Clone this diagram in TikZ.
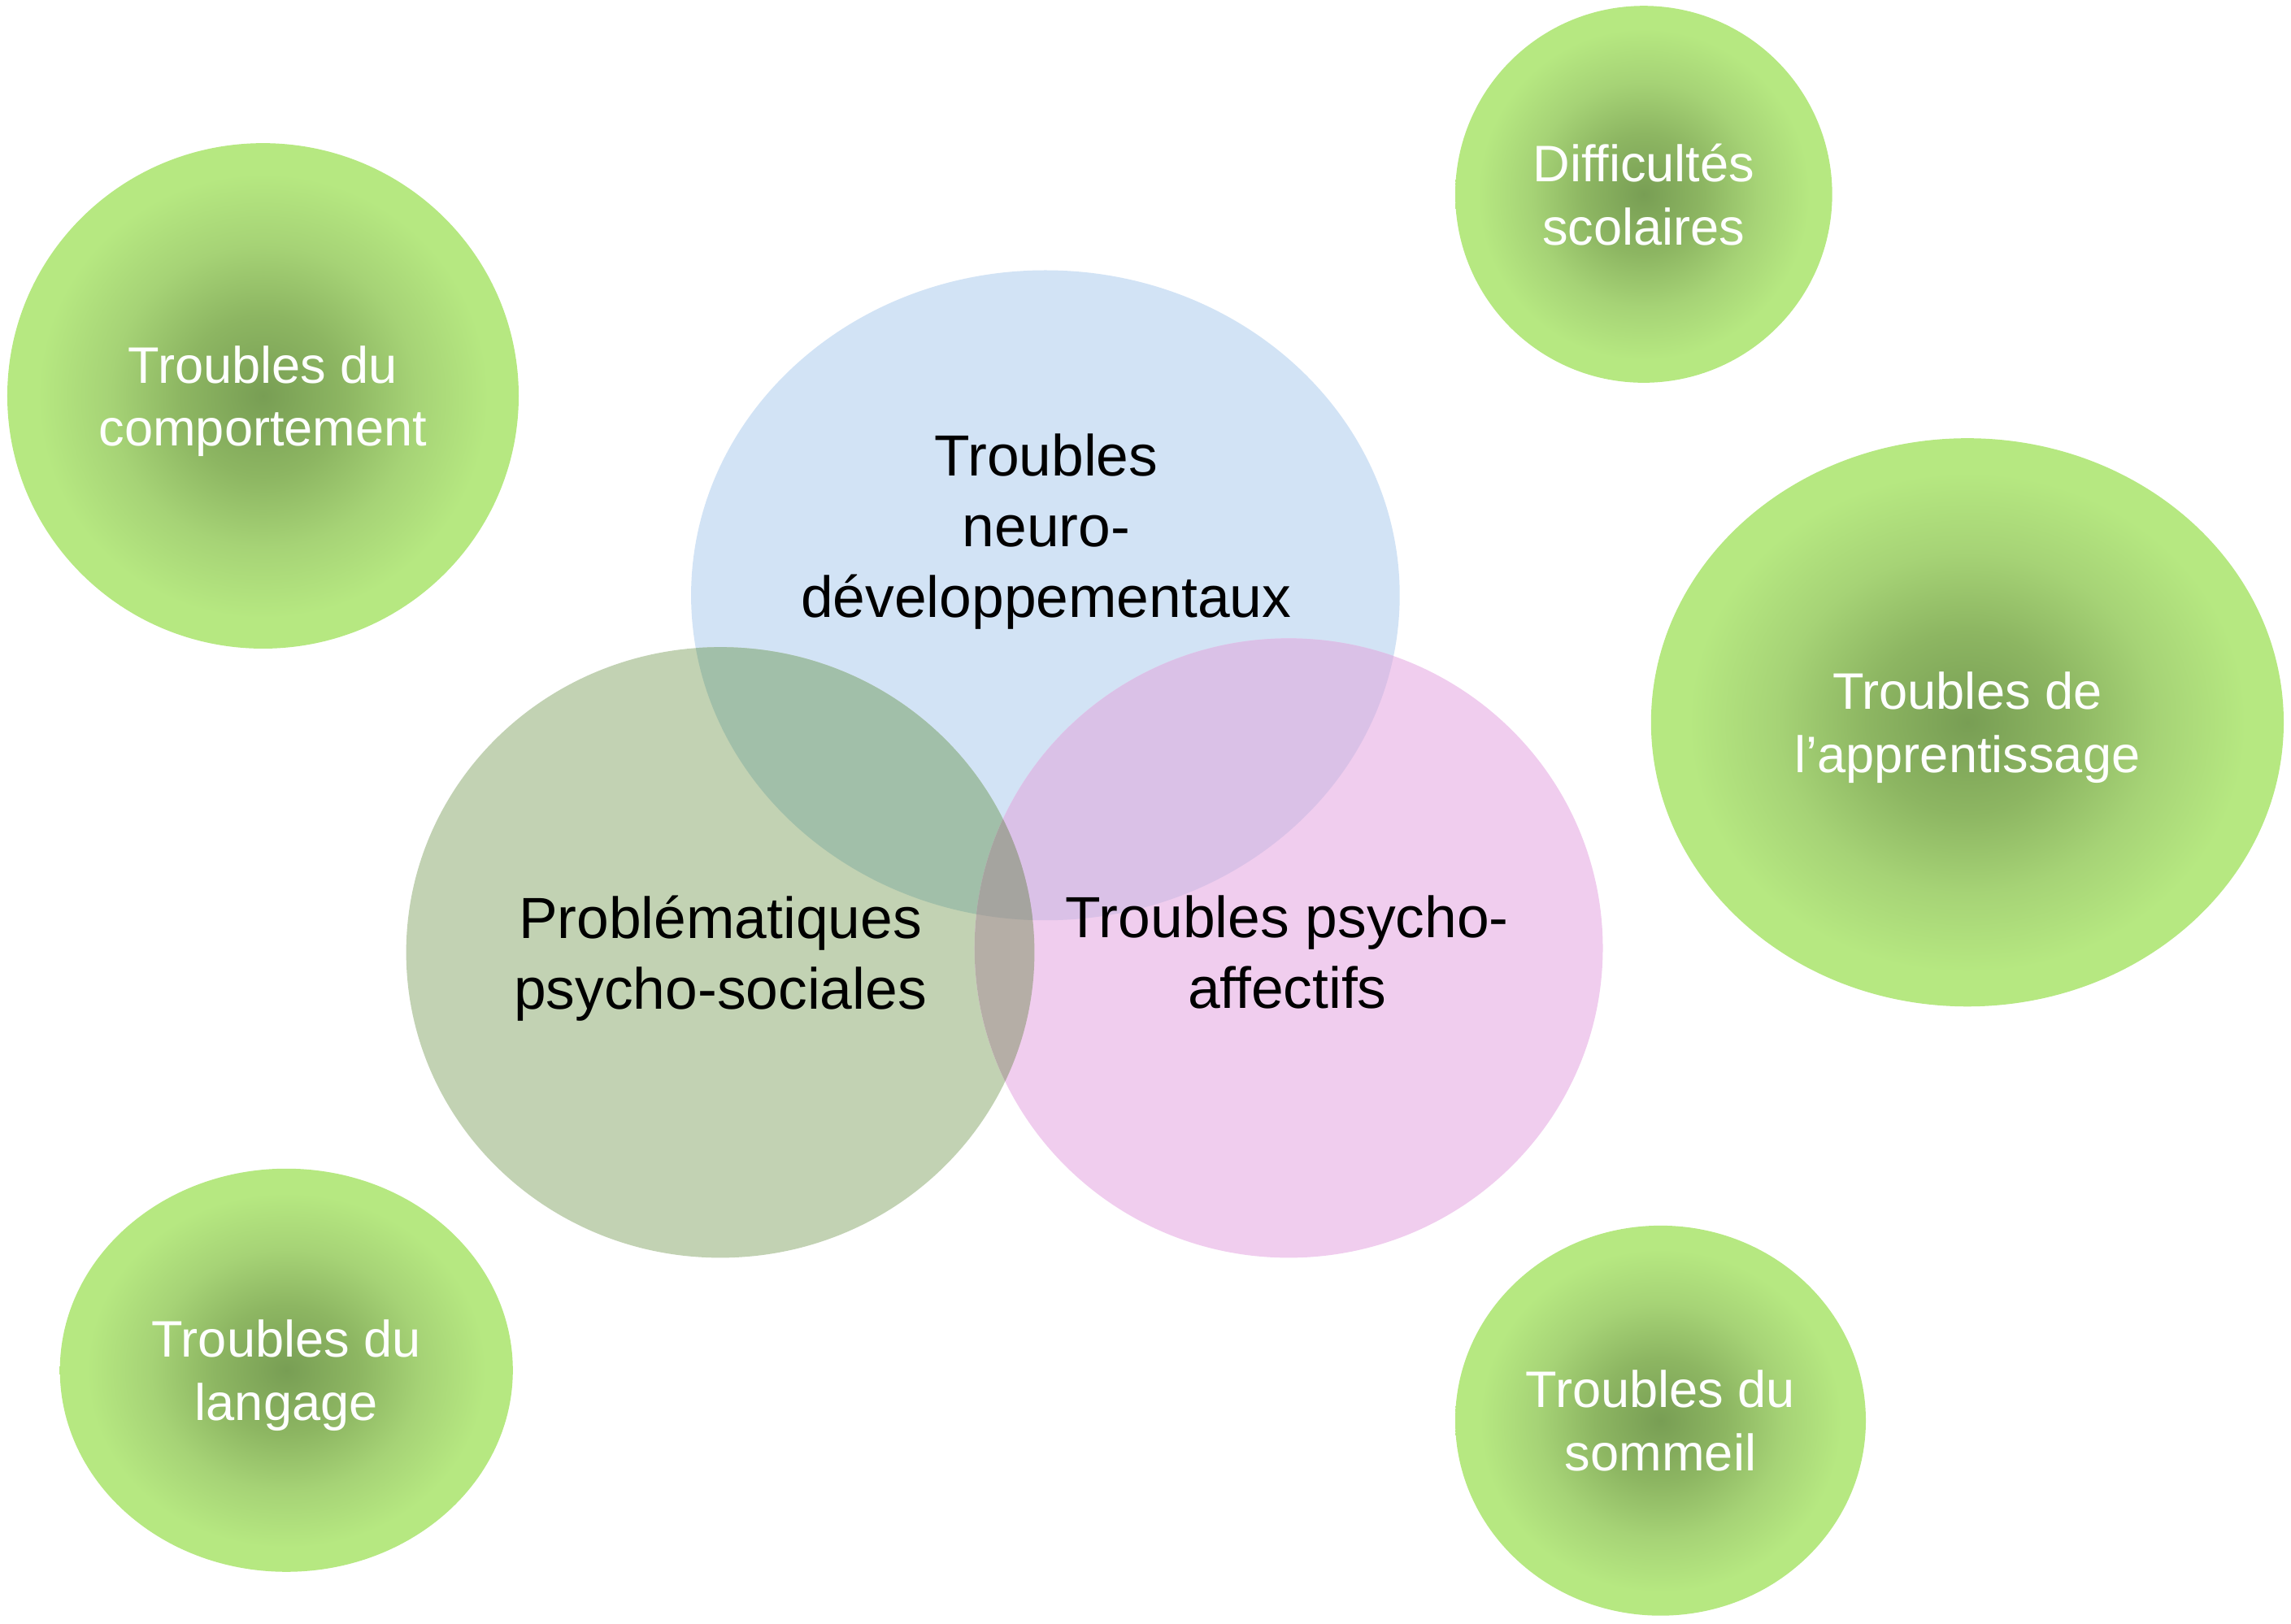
\documentclass[tikz,border=0pt]{standalone}
\usepackage{fontspec}
\setmainfont{Liberation Sans}
\usetikzlibrary{shapes.geometric}

\definecolor{neuroblue}{RGB}{210,227,245}
\definecolor{socialgreen}{RGB}{194,210,179}
\definecolor{affectpink}{RGB}{240,205,238}
\definecolor{neurosocial}{RGB}{161,191,169}
\definecolor{neuroaffect}{RGB}{218,193,231}
\definecolor{socialaffect}{RGB}{181,174,166}
\definecolor{allthree}{RGB}{165,164,159}
\definecolor{halocore}{RGB}{120,158,84}
\definecolor{halomid}{RGB}{141,182,98}
\definecolor{haloouter}{RGB}{166,211,118}
\definecolor{haloedge}{RGB}{182,232,129}

\pgfdeclareradialshading{halo}{\pgfpoint{0bp}{0bp}}{color(0bp)=(halocore); color(8bp)=(halomid); color(15bp)=(haloouter); color(22bp)=(haloedge); color(50bp)=(haloedge)}

\begin{document}
\begin{tikzpicture}[x=0.1mm, y=-0.1mm,
    halobox/.style={ellipse, shading=halo, text=white, align=center, inner sep=0pt,
        text depth=0pt, font=\fontsize{10}{12.3}\selectfont},
    venntext/.style={align=center, font=\fontsize{11.3}{13.8}\selectfont},
    neuroR/.style={x radius=242.5, y radius=222.5},
    socialR/.style={x radius=215, y radius=209},
    affectR/.style={x radius=215, y radius=212}]
    \useasboundingbox (0,0) rectangle (1568,1111.2);

    % green bubbles round the diagram
    \node[halobox, minimum width=35mm, minimum height=34.6mm] (comport) at (180,271) {Troubles du\\comportement};
    \node[halobox, minimum width=25.8mm, minimum height=25.8mm] (scolaire) at (1125,133) {Difficultés\\scolaires};
    \node[halobox, minimum width=43.3mm, minimum height=38.9mm] (apprent) at (1346.5,494.5) {Troubles de\\l’apprentissage};
    \node[halobox, minimum width=31mm, minimum height=27.6mm] (langage) at (196,938) {Troubles du\\langage};
    \node[halobox, minimum width=28.1mm, minimum height=26.7mm] (sommeil) at (1136.5,972.5) {Troubles du\\sommeil};

    % venn
    \coordinate (neuro) at (715.5,407.5);
    \coordinate (social) at (493,652);
    \coordinate (affect) at (882,649);
    \fill[neuroblue] (neuro) ellipse [neuroR];
    \fill[socialgreen] (social) ellipse [socialR];
    \fill[affectpink] (affect) ellipse [affectR];
    \begin{scope}
        \clip (neuro) ellipse [neuroR];
        \fill[neurosocial] (social) ellipse [socialR];
        \fill[neuroaffect] (affect) ellipse [affectR];
    \end{scope}
    \begin{scope}
        \clip (social) ellipse [socialR];
        \fill[socialaffect] (affect) ellipse [affectR];
        \clip (neuro) ellipse [neuroR];
        \fill[allthree] (affect) ellipse [affectR];
    \end{scope}

    \node[venntext] (neurotext) at (716,364) {Troubles\\neuro-\\développementaux};
    \node[venntext] (socialtext) at (493,656) {Problématiques\\psycho-sociales};
    \node[venntext] (affecttext) at (881,652) {Troubles psycho-\\affectifs};
\end{tikzpicture}
\end{document}
